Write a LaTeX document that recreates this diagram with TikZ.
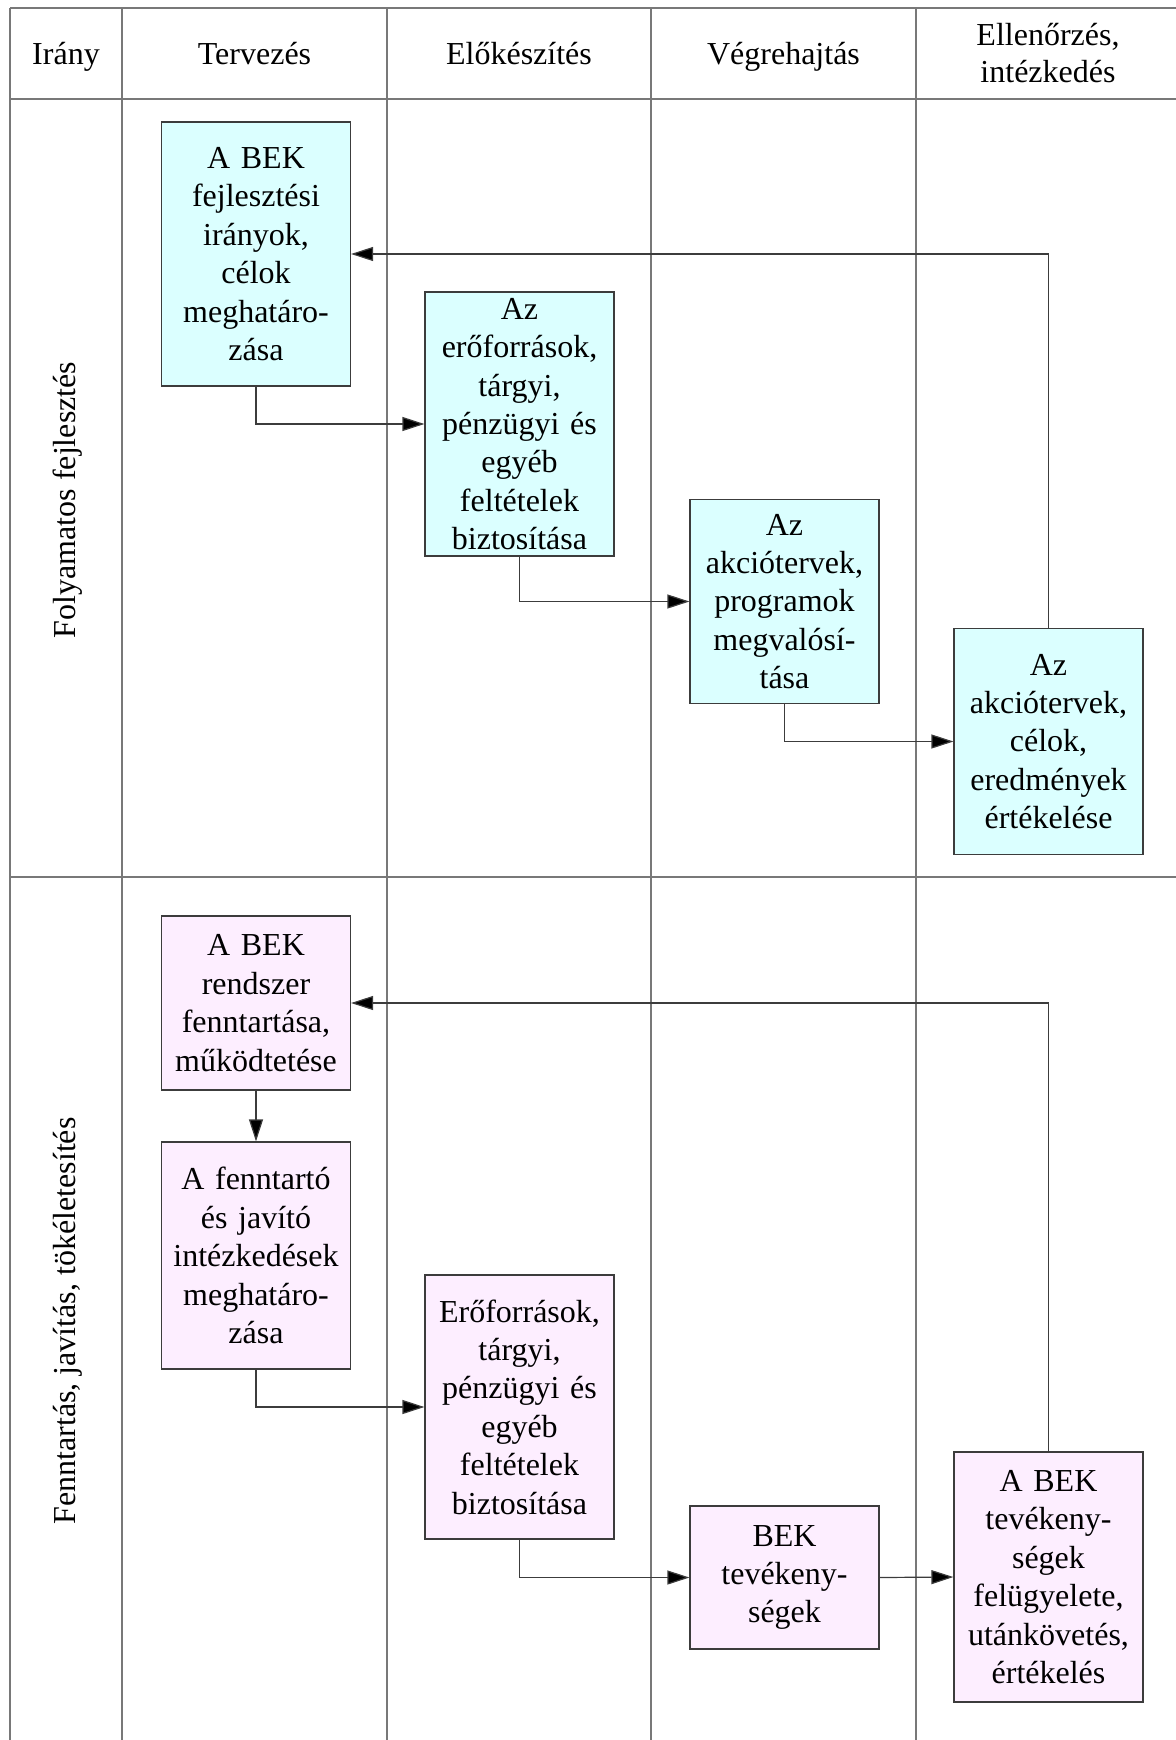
\documentclass[tikz,border=0pt]{standalone}
\usepackage{fontspec}
\setmainfont{Liberation Serif}
\usetikzlibrary{arrows.meta}
\definecolor{devfill}{RGB}{219,255,255}
\definecolor{mntfill}{RGB}{253,238,255}
\definecolor{gridgray}{RGB}{120,120,120}
\definecolor{boxline}{RGB}{60,60,60}
\begin{document}
\begin{tikzpicture}[x=0.5pt,y=-0.5pt,
  every node/.style={font=\fontsize{16}{19.2}\selectfont, inner sep=0pt},
  heavyrule/.style={draw=gridgray, line width=1.1pt},
  thinrule/.style={draw=gridgray, line width=0.55pt},
  colhead/.style={anchor=base, align=center},
  procbox/.style={draw=boxline, line width=0.6pt, minimum width=94.5pt, align=center, text width=94pt},
  devbox/.style={procbox, fill=devfill},
  mntbox/.style={procbox, fill=mntfill},
  flow/.style={draw=boxline, line width=0.6pt, -{Triangle[length=11pt,width=7pt,fill=black]}},
  lane/.style={rotate=90, anchor=center}
]
\useasboundingbox (0,0) rectangle (1175,1740);

% table grid
\draw[heavyrule] (10,8) -- (1180,8);
\draw[heavyrule] (10,8) -- (10,1745);
\draw[heavyrule] (10,99) -- (1180,99);
\draw[heavyrule] (10,877) -- (1180,877);
\foreach \cx in {122,387,651,916}
  \draw[thinrule] (\cx,8) -- (\cx,1745);

% column headers (common baseline)
\node[colhead] (hIrany) at (66,64) {Irány};
\node[colhead] (hTerv) at (254.5,64) {Tervezés};
\node[colhead] (hElo) at (519,64) {Előkészítés};
\node[colhead] (hVegre) at (783.5,64) {Végrehajtás};
\node[align=center, font=\fontsize{16}{18.6}\selectfont] (hEll) at (1048,53) {Ellenőrzés,\\intézkedés};

% row headers
\node[lane] (rFejl) at (68,500) {Folyamatos fejlesztés};
\node[lane] (rFennt) at (68,1321) {Fenntartás, javítás, tökéletesítés};

% continuous development lane
\node[devbox, minimum height=132pt] (b1) at (256,254)
  {A BEK\\fejlesztési\\irányok,\\célok\\meghatáro-\\zása};
\node[devbox, minimum height=132pt] (b2) at (519.5,424)
  {Az\\erőforrások,\\tárgyi,\\pénzügyi és\\egyéb\\feltételek\\biztosítása};
\node[devbox, minimum height=102pt] (b3) at (784.5,601.5)
  {Az\\akciótervek,\\programok\\megvalósí-\\tása};
\node[devbox, minimum height=113pt] (b4) at (1048.5,741.5)
  {Az\\akciótervek,\\célok,\\eredmények\\értékelése};

% maintenance lane
\node[mntbox, minimum height=87pt] (b5) at (256,1003)
  {A BEK\\rendszer\\fenntartása,\\működtetése};
\node[mntbox, minimum height=113.5pt] (b6) at (256,1255.5)
  {A fenntartó\\és javító\\intézkedések\\meghatáro-\\zása};
\node[mntbox, minimum height=132pt] (b7) at (519.5,1407)
  {Erőforrások,\\tárgyi,\\pénzügyi és\\egyéb\\feltételek\\biztosítása};
\node[mntbox, minimum height=71.5pt] (b8) at (784.5,1577.5)
  {BEK\\tevékeny-\\ségek};
\node[mntbox, minimum height=125pt] (b9) at (1048.5,1577)
  {A BEK\\tevékeny-\\ségek\\felügyelete,\\utánkövetés,\\értékelés};

% connectors
\draw[flow] (b1.south) |- (b2.west);
\draw[flow] (b2.south) |- (b3.west);
\draw[flow] (b3.south) |- (b4.west);
\draw[flow] (b4.north) |- (b1.east);

\draw[flow] (b5.south) -- (b6.north);
\draw[flow] (b6.south) |- (b7.west);
\draw[flow] (b7.south) |- (b8.west);
\draw[flow] (b8.east) -- (b9.west);
\draw[flow] (b9.north) |- (b5.east);
\end{tikzpicture}
\end{document}
